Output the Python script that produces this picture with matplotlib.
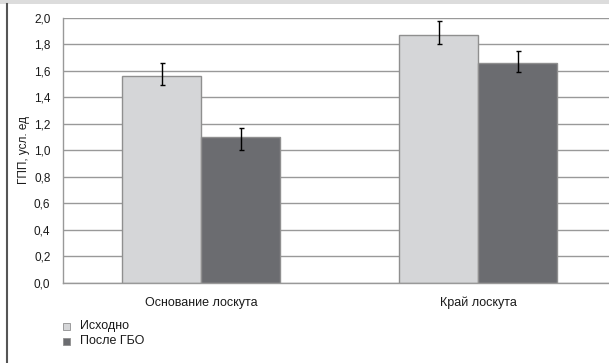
import numpy as np
import matplotlib.pyplot as plt
from matplotlib.patches import Rectangle
from matplotlib.lines import Line2D

plt.rcParams["font.family"] = ["Liberation Sans", "DejaVu Sans"]

categories = ["Основание лоскута", "Край лоскута"]
series = ["Исходно", "После ГБО"]
before = [1.56, 1.87]
after = [1.10, 1.66]
before_lo = [0.07, 0.07]
before_hi = [0.10, 0.10]
after_lo = [0.10, 0.07]
after_hi = [0.065, 0.09]
yticks = [0.0, 0.2, 0.4, 0.6, 0.8, 1.0, 1.2, 1.4, 1.6, 1.8, 2.0]

W, H = 609, 363
fig = plt.figure(figsize=(W / 100, H / 100), dpi=100)
ax = fig.add_axes([63 / W, (H - 283) / H, 1 - 63 / W, 265.5 / H])

x = np.arange(len(categories))
bw = 0.285
ax.bar(x - bw / 2, before, bw, color="#d5d6d8", edgecolor="#8f8f8f", linewidth=1, zorder=2)
ax.bar(x + bw / 2, after, bw, color="#6b6c70", edgecolor="#8f8f8f", linewidth=1, zorder=2)
ax.errorbar(x - bw / 2, before, yerr=[before_lo, before_hi], fmt="none",
            ecolor="black", elinewidth=1, capsize=1.8, capthick=1, zorder=3)
ax.errorbar(x + bw / 2, after, yerr=[after_lo, after_hi], fmt="none",
            ecolor="black", elinewidth=1, capsize=1.8, capthick=1, zorder=3)

ax.set_xlim(-0.5, 1.473)
ax.set_ylim(0, 2.0)
ax.set_yticks(yticks, labels=[f"{v:.1f}".replace(".", ",") for v in yticks])
ax.set_xticks(x, labels=categories)
ax.tick_params(axis="y", length=0, pad=9, labelsize=8.5, colors="#1a1a1a")
ax.tick_params(axis="x", length=0, pad=10, labelsize=9, colors="#1a1a1a")
ax.yaxis.grid(True, color="#999999", linewidth=1, zorder=0)
ax.set_axisbelow(True)
for s in ["top", "right"]:
    ax.spines[s].set_visible(False)
for s in ["left", "bottom"]:
    ax.spines[s].set_color("#999999")
    ax.spines[s].set_linewidth(1)
ax.set_ylabel("ГПП, усл. ед", fontsize=8.5, color="#1a1a1a", labelpad=3)

# header band and left frame line
fig.patches.append(Rectangle((0, (H - 3.5) / H), 1, 3.5 / H, transform=fig.transFigure,
                             facecolor="#dcdcdc", edgecolor="none"))
fig.lines.append(Line2D([7 / W, 7 / W], [0, (H - 3.5) / H], transform=fig.transFigure,
                        color="#555555", linewidth=1.5))

# legend drawn by hand at the lower left
for i, (name, col) in enumerate(zip(series, ["#d5d6d8", "#6b6c70"])):
    yc = 326.5 + i * 15
    fig.patches.append(Rectangle((63 / W, (H - yc - 3.5) / H), 6.5 / W, 7 / H,
                                 transform=fig.transFigure, facecolor=col,
                                 edgecolor="#8f8f8f", linewidth=0.6))
    fig.text(80 / W, (H - yc) / H, name, fontsize=9, va="center", color="#1a1a1a")

fig.savefig("out.png", dpi=100)
